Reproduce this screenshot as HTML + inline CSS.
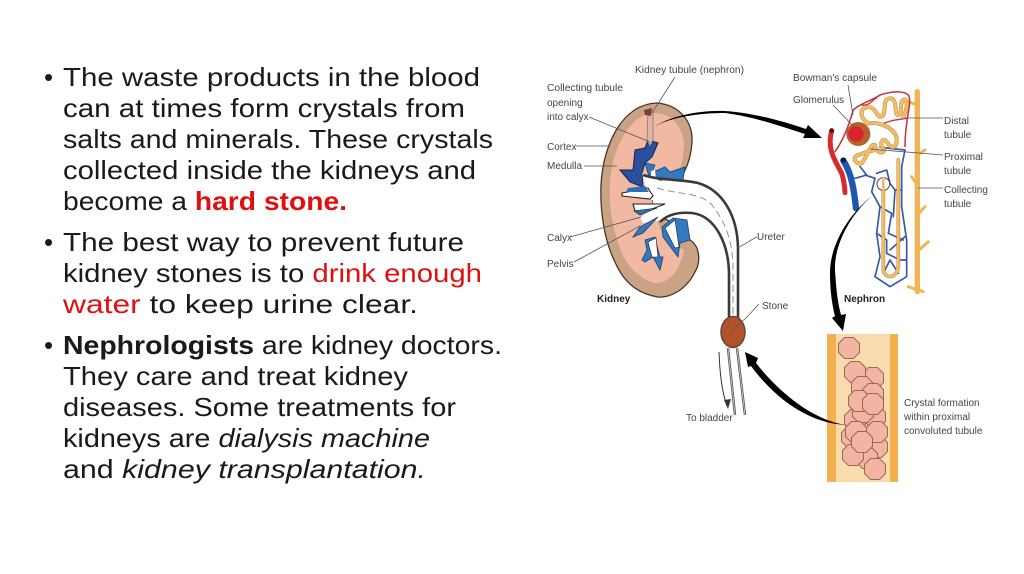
<!DOCTYPE html>
<html><head><meta charset="utf-8"><style>
html,body{margin:0;padding:0;background:#fff}
svg{display:block}
.t{font-family:"Liberation Sans",sans-serif;font-size:26px;fill:#1a1a1a}
.l{font-family:"Liberation Sans",sans-serif;font-size:10px;fill:#444}
.b{fill:#222}
</style></head><body>
<svg width="1024" height="574" viewBox="0 0 1024 574" xmlns="http://www.w3.org/2000/svg">
<defs>
<polygon id="o" points="-4.5,-10.5 4.5,-10.5 10.5,-4.5 10.5,4.5 4.5,10.5 -4.5,10.5 -10.5,4.5 -10.5,-4.5" fill="#f3b4a4" stroke="#9a6a50" stroke-width="1"/>
</defs>
<!-- slide text -->
<g class="t">
<text x="44" y="86">•</text><text x="44" y="251">•</text><text x="44" y="354">•</text>
<text x="63" y="86" textLength="417" lengthAdjust="spacingAndGlyphs">The waste products in the blood</text>
<text x="63" y="117" textLength="402" lengthAdjust="spacingAndGlyphs">can at times form crystals from</text>
<text x="63" y="148" textLength="430" lengthAdjust="spacingAndGlyphs">salts and minerals. These crystals</text>
<text x="63" y="179" textLength="413" lengthAdjust="spacingAndGlyphs">collected inside the kidneys and</text>
<text x="63" y="210" textLength="284" lengthAdjust="spacingAndGlyphs">become a <tspan font-weight="bold" fill="#e01010">hard stone.</tspan></text>
<text x="63" y="251" textLength="401" lengthAdjust="spacingAndGlyphs">The best way to prevent future</text>
<text x="63" y="282" textLength="419" lengthAdjust="spacingAndGlyphs">kidney stones is to <tspan fill="#e01010">drink enough</tspan></text>
<text x="63" y="313" textLength="355" lengthAdjust="spacingAndGlyphs"><tspan fill="#e01010">water</tspan> to keep urine clear.</text>
<text x="63" y="354" textLength="439" lengthAdjust="spacingAndGlyphs"><tspan font-weight="bold">Nephrologists</tspan> are kidney doctors.</text>
<text x="63" y="385" textLength="345" lengthAdjust="spacingAndGlyphs">They care and treat kidney</text>
<text x="63" y="416" textLength="393" lengthAdjust="spacingAndGlyphs">diseases. Some treatments for</text>
<text x="63" y="447" textLength="367" lengthAdjust="spacingAndGlyphs">kidneys are <tspan font-style="italic">dialysis machine</tspan></text>
<text x="63" y="478" textLength="363" lengthAdjust="spacingAndGlyphs">and  <tspan font-style="italic">kidney transplantation.</tspan></text>
</g>

<!-- kidney -->
<path d="M657,103 C680,105 693,122 692,142 C691,155 688,165 684,172 L665,176 L650,190 L655,215 L672,222 L690,240 C700,246 701,262 695,272 C686,290 670,298 658,297 C640,294 625,285 615,262 C604,240 600,210 601,185 C603,145 622,104 657,103Z" fill="#c9a384" stroke="#4a3328" stroke-width="1.3"/>
<path d="M652,113 C670,112 682,125 684,143 C684,155 682,165 678,172 L664,176 L650,190 L655,215 L665,240 L684,250 C680,268 672,283 655,283 C636,278 622,262 616,235 C608,210 608,180 614,158 C622,132 636,115 652,113Z" fill="#f1b9a2"/>
<!-- calyces -->
<path d="M648,140 L658,143 L652,157 L645,163 L642,173 L643,187 L630,182 L620,170 L633,170 L635,150 L645,148Z" fill="#2a4f9c" stroke="#15264f" stroke-width="1"/>
<path d="M645,163 L655,165 L652,172 L658,170 L665,167 L670,172 L685,167 L683,180 L650,180Z" fill="#3478bf" stroke="#1b3f74" stroke-width=".8"/>
<path d="M651,171 L655,170 L656,179 L651,178Z" fill="#fff"/>
<!-- pelvis + ureter white -->
<path d="M642,173 L663,182 L687,180 C705,183 722,195 730,217 L738,250 L738,322 L729,322 L729,267 C727,250 720,233 700,217 L683,213 C675,213 668,216 663,220 L643,223 L640,218 L653,207 L663,205 L633,208 L660,202 L623,193 L653,196 L645,185Z" fill="#fff"/>
<path d="M622,193 L648,188 L653,196 L650,199 L622,196Z" fill="#fff" stroke="#222" stroke-width="1.1"/>
<path d="M628,188 L645,186 L649,192 L626,192Z" fill="#2f6fb3"/>
<path d="M633,204 L665,204 L652,209 L635,211Z" fill="#fff" stroke="#222" stroke-width="1.1"/>
<path d="M634,211 L657,208 L640,215Z" fill="#2f6fb3" stroke="#222" stroke-width=".6"/>
<path d="M658,217 L643,233 L633,237 L640,227Z" fill="#3478bf" stroke="#1b3f74" stroke-width=".8"/>
<path d="M645,240 L655,237 L658,250 L660,257 L663,257 L660,270 L653,257 L645,262 L642,260 L647,250Z" fill="#3478bf" stroke="#1b3f74" stroke-width=".8"/>
<path d="M648,242 L656,238 L658,257 L652,257Z" fill="#fff" stroke="#222" stroke-width=".6"/>
<path d="M662,227 L673,218 L687,220 L690,240 L680,243 L678,257 L663,237Z" fill="#3478bf" stroke="#1b3f74" stroke-width=".8"/>
<path d="M665,228 L675,220 L679,247 L675,248Z" fill="#fff" stroke="#222" stroke-width=".6"/>
<path d="M643,175 C662,181 682,179 698,183 C722,190 738,215 738,250 L738,322" fill="none" stroke="#3a3a3a" stroke-width="2.6"/>
<path d="M660,222 C668,214 680,212 692,213 C716,216 729,245 729,275 L729,322" fill="none" stroke="#3a3a3a" stroke-width="2.6"/>
<path d="M657,188 C680,195 700,192 712,205 C725,222 733,240 733,270 L733,318" fill="none" stroke="#a08a80" stroke-width="1" stroke-dasharray="7 4"/>
<path d="M728,348 L735,415 M737,348 L745,415" stroke="#555" stroke-width="2.4" fill="none"/>
<path d="M728,348 L735,415 M737,348 L745,415" stroke="#ddd" stroke-width=".7" fill="none"/>
<ellipse cx="733" cy="332" rx="12" ry="15.5" fill="#b3522a" stroke="#5b4a40" stroke-width="1.5"/>
<path d="M719,352 C720,380 723,395 727,406" fill="none" stroke="#333" stroke-width="1"/>
<path d="M724,400 L728,409 L731,399Z" fill="#333"/>
<!-- tubule in kidney -->
<path d="M648,112 L653,112 L653,140 L650,146 L647,140Z" fill="#dcb6a8" stroke="#8a6a60" stroke-width=".7"/>
<path d="M644,110 L652,108 L651,116 L645,115Z" fill="#7a4038"/>
<!-- nephron (reference zoom coords) -->
<g transform="translate(780 60) scale(.33333)" fill="none" stroke-linecap="round" stroke-linejoin="round">
<path d="M412,95 L412,695" stroke="#f2b556" stroke-width="16"/>
<path d="M385,125 L412,135 M435,270 L412,285 M395,350 L412,375 M435,440 L412,465 M445,545 L412,575 M385,680 L430,695" stroke="#f2b556" stroke-width="9"/>
<path d="M165,275 C190,240 205,200 220,150 C240,130 280,120 300,105 C330,95 370,90 385,105 C398,130 375,170 375,260" stroke="#c8303c" stroke-width="4.5"/>
<path d="M245,135 C270,140 285,110 290,115 M300,195 C330,180 350,180 380,175" stroke="#c8303c" stroke-width="4"/>
<path d="M155,212 C140,270 165,300 185,340 C192,360 194,380 195,398" stroke="#d62c2c" stroke-width="15"/>
<circle cx="155" cy="212" r="7" fill="#5a1010"/>
<path d="M190,302 C215,340 222,390 228,445" stroke="#1f57b0" stroke-width="19"/>
<circle cx="190" cy="300" r="8" fill="#101a40"/>
<g stroke="#3658a8" stroke-width="5">
<path d="M240,320 L260,345 L225,355 M255,345 L285,355 L275,395 L300,440 L290,520 L300,590 L285,650 L330,680 L380,650 L380,540 L365,440 L365,320 L375,270 L300,262"/>
<path d="M290,340 L320,330 L330,370 L345,390 L365,390 M300,440 L335,460 L325,520 L370,540 M290,520 L320,540 L320,580 L360,600 L380,600 M345,390 L340,470 M330,570 L375,530 M310,640 L330,600 L355,640"/>
</g>
<path d="M310,370 L310,630 C312,655 350,660 355,620 L355,300" stroke="#b9823a" stroke-width="11"/>
<path d="M310,370 L310,630 C312,655 350,660 355,620 L355,300" stroke="#f3bd66" stroke-width="8"/>
<g>
<path id="tb" d="M265,190 C240,175 235,145 265,140 C295,145 290,185 310,165 C320,140 305,120 330,115 C355,115 340,165 355,165 C370,160 355,120 375,118 C385,130 380,150 370,170 M265,190 C300,185 345,205 350,235 C352,265 335,270 320,245 C310,232 295,250 310,265 C320,285 285,280 285,255 C270,250 262,290 245,310 C225,315 215,290 235,285 C250,280 270,270 290,270" stroke="#b9823a" stroke-width="12"/>
<path d="M265,190 C240,175 235,145 265,140 C295,145 290,185 310,165 C320,140 305,120 330,115 C355,115 340,165 355,165 C370,160 355,120 375,118 C385,130 380,150 370,170 M265,190 C300,185 345,205 350,235 C352,265 335,270 320,245 C310,232 295,250 310,265 C320,285 285,280 285,255 C270,250 262,290 245,310 C225,315 215,290 235,285 C250,280 270,270 290,270" stroke="#f3bd66" stroke-width="9"/>
</g>
<circle cx="310" cy="372" r="19" fill="#fff" stroke="#444" stroke-width="3"/>
<path d="M310,355 L310,390" stroke="#f3bd66" stroke-width="8"/>
<circle cx="235" cy="222" r="36" fill="#b5622e"/>
<circle cx="228" cy="222" r="23" fill="#d8232e"/>
</g>
<!-- leader lines -->
<g stroke="#555" stroke-width=".8" fill="none">
<path d="M675,77 L652,113"/><path d="M589,117 L650,142"/><path d="M576,146 L610,146"/><path d="M584,166 L617,166"/>
<path d="M570,237 L641,217"/><path d="M574,262 L640,226"/><path d="M757,237 C750,240 745,245 737,248"/><path d="M759,304 L746,318 L732,330"/>
<path d="M848,85 L853,115"/><path d="M833,105 L855,128"/><path d="M943,118 L905,118"/><path d="M943,155 L870,149"/><path d="M943,188 L918,188"/>
</g>
<!-- crystal tube -->
<rect x="827" y="334" width="71" height="148" fill="#f9dcae"/>
<rect x="827" y="334" width="9" height="148" fill="#f4b04c"/>
<rect x="890" y="334" width="8" height="148" fill="#f4b04c"/>
<use href="#o" x="849" y="348"/><use href="#o" x="873" y="378"/><use href="#o" x="855" y="372"/><use href="#o" x="862" y="387"/>
<use href="#o" x="873" y="394"/><use href="#o" x="855" y="420"/><use href="#o" x="875" y="417"/><use href="#o" x="863" y="412"/>
<use href="#o" x="859" y="401"/><use href="#o" x="873" y="404"/><use href="#o" x="852" y="437"/><use href="#o" x="877" y="447"/>
<use href="#o" x="867" y="458"/><use href="#o" x="853" y="455"/><use href="#o" x="856" y="432"/><use href="#o" x="877" y="432"/>
<use href="#o" x="862" y="442"/><use href="#o" x="875" y="469"/>
<!-- arrows -->
<path d="M654,127 C670,116 700,110 725,111 C755,113 785,122 806,129 L808,125 L822,138 L803,138 L805,134 C780,126 755,117 725,113 C700,113 670,117 654,127Z" fill="#000"/>
<path d="M872,196 C848,215 830,245 830,273 C830,290 832,305 835,316 L832,318 L843,331 L846,314 L841,315 C837,300 836,285 835,270 C834,245 850,215 872,196Z" fill="#000"/>
<path d="M847,425 C820,422 785,400 756,363 L758,358 L745,352 L748,367 L751,366 C780,405 815,424 847,425Z" fill="#000"/>
<!-- labels -->
<g class="l">
<text x="635" y="73" textLength="109" lengthAdjust="spacingAndGlyphs">Kidney tubule (nephron)</text>
<text x="547" y="91" textLength="76" lengthAdjust="spacingAndGlyphs">Collecting tubule</text>
<text x="547" y="106">opening</text>
<text x="547" y="120">into calyx</text>
<text x="547" y="150">Cortex</text>
<text x="547" y="169">Medulla</text>
<text x="547" y="241">Calyx</text>
<text x="547" y="267">Pelvis</text>
<text x="757" y="240">Ureter</text>
<text x="762" y="309">Stone</text>
<text x="686" y="421">To bladder</text>
<text x="793" y="81" textLength="84" lengthAdjust="spacingAndGlyphs">Bowman's capsule</text>
<text x="793" y="103">Glomerulus</text>
<text x="944" y="124">Distal</text>
<text x="944" y="138">tubule</text>
<text x="944" y="160">Proximal</text>
<text x="944" y="174">tubule</text>
<text x="944" y="193">Collecting</text>
<text x="944" y="207">tubule</text>
<text x="904" y="406">Crystal formation</text>
<text x="904" y="420">within proximal</text>
<text x="904" y="434">convoluted tubule</text>
<text x="597" y="302" class="b" font-weight="bold">Kidney</text>
<text x="844" y="302" class="b" font-weight="bold">Nephron</text>
</g>
</svg>
</body></html>
